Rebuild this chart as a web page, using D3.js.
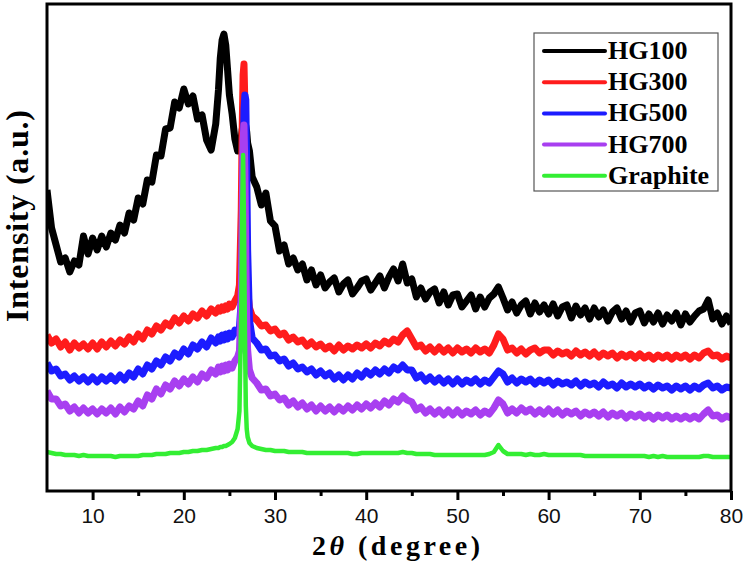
<!DOCTYPE html>
<html>
<head>
<meta charset="utf-8">
<script src="https://cdn.jsdelivr.net/npm/d3@7"></script>
<style>
  body { margin: 0; background: #fff; }
</style>
</head>
<body>
<svg id="chart"></svg>
<script>
// 2-theta grid (degree), finer around the graphite (002) peak
const angle = [
  5,5.5,6,6.5,7,7.5,8,8.5,9,9.5,
  10,10.5,11,11.5,12,12.5,13,13.5,14,14.5,
  15,15.5,16,16.5,17,17.5,18,18.5,19,19.5,
  20,20.5,21,21.5,22,22.5,23,23.5,
  23.8,24,24.2,24.4,24.6,24.8,25,25.3,25.6,25.9,
  26.1,26.3,26.4,26.5,26.6,26.7,26.8,26.9,27,27.2,27.5,
  28,28.5,29,29.5,
  30,30.5,31,31.5,32,32.5,33,33.5,34,34.5,
  35,35.5,36,36.5,37,37.5,38,38.5,39,39.5,
  40,40.5,41,41.5,42,42.5,43,43.5,44,44.5,
  45,45.5,46,46.5,47,47.5,48,48.5,49,49.5,
  50,50.5,51,51.5,52,52.5,53,53.5,54,54.5,
  55,55.5,56,56.5,57,57.5,58,58.5,59,59.5,
  60,60.5,61,61.5,62,62.5,63,63.5,64,64.5,
  65,65.5,66,66.5,67,67.5,68,68.5,69,69.5,
  70,70.5,71,71.5,72,72.5,73,73.5,74,74.5,
  75,75.5,76,76.5,77,77.5,78,78.5,79,79.5,
  80
];

// intensities (a.u.), curves already offset
const hg100 = [
  301,263,246,229,233,219,230,226,255,237,
  253,241,255,244,258,251,266,258,278,271,
  293,287,311,309,336,335,362,363,389,383,
  402,387,395,372,376,351,341,367,
  401,433,451,457,446,421,396,377,352,340,
  347,353,361,366,369,369,365,359,348,340,314,
  304,286,298,270,
  265,240,246,227,233,221,227,211,221,206,
  216,203,209,213,199,207,211,197,203,210,
  212,201,208,215,203,214,222,210,227,208,
  212,194,203,192,199,202,188,199,186,196,
  197,184,190,196,182,194,184,193,197,204,
  193,181,189,178,186,190,177,188,179,186,
  177,187,175,184,186,173,185,176,183,172,
  183,174,181,170,179,183,172,180,169,178,
  180,168,177,169,178,167,176,170,178,166,
  177,169,175,180,182,191,172,178,167,175,
  167
];
const hg300 = [
  156,148,152,144,149,141,148,143,147,142,
  148,142,149,144,150,145,151,147,154,149,
  157,152,161,157,165,161,168,165,173,168,
  175,170,177,173,180,175,182,178,
  183,180,184,181,185,182,187,184,190,195,
  206,281,361,416,427,386,301,236,201,183,175,
  171,165,166,160,
  162,156,158,151,154,149,151,145,149,144,
  147,142,145,140,146,141,145,142,146,143,
  147,143,148,145,150,147,152,149,156,160,
  152,144,146,140,144,139,144,139,143,138,
  143,139,142,138,143,139,142,138,146,157,
  152,141,143,138,142,137,141,143,138,141,
  141,136,140,137,139,135,140,136,139,135,
  139,134,138,135,138,133,137,134,137,133,
  137,133,136,132,136,133,136,132,136,133,
  136,132,136,133,138,140,135,136,132,135,
  133
];
const hg500 = [
  128,120,122,115,117,111,115,110,114,109,
  114,109,114,110,115,110,116,111,118,114,
  122,117,126,122,130,126,134,130,138,134,
  142,137,146,142,149,144,153,148,
  154,150,156,151,157,152,158,154,161,158,
  163,191,241,321,381,396,391,321,241,171,153,
  148,141,142,135,
  136,130,132,125,128,122,124,119,122,116,
  120,115,118,112,116,111,116,112,118,114,
  120,116,121,117,122,118,124,121,126,121,
  121,113,116,110,114,109,113,108,112,107,
  112,107,111,108,112,107,111,108,114,120,
  117,109,113,108,112,109,112,107,111,108,
  111,106,110,107,109,106,110,105,109,106,
  108,104,109,105,107,103,108,104,107,104,
  107,103,106,102,106,103,105,101,105,102,
  105,101,105,102,106,108,103,105,101,104,
  103
];
const hg700 = [
  100,92,92,85,87,80,84,78,83,78,
  82,77,82,78,83,77,84,79,85,82,
  90,85,96,92,102,97,106,102,110,105,
  112,107,114,109,117,113,121,117,
  124,119,125,120,126,121,127,123,130,134,
  140,191,271,351,366,321,231,171,141,121,113,
  108,101,102,95,
  97,91,93,86,90,84,88,82,86,80,
  85,80,84,79,84,80,85,81,86,82,
  87,83,88,84,90,86,92,89,95,91,
  89,81,84,78,82,77,81,76,81,76,
  81,76,80,77,81,76,80,77,83,91,
  87,78,82,78,83,79,82,77,81,77,
  82,77,81,76,80,77,80,75,79,76,
  79,75,79,74,78,75,78,73,77,74,
  77,73,76,72,76,73,76,72,75,72,
  75,72,75,72,77,81,75,76,72,75,
  73
];
const graphite = [
  39,38,37,37,36,36,36,35,36,35,
  35,35,35,35,35,34,35,35,35,35,
  35,36,36,36,37,37,37,38,38,38,
  39,39,40,40,41,41,42,43,
  43,44,44,45,45,46,47,49,53,62,
  80,180,280,336,270,160,85,62,54,48,45,
  43,42,41,41,
  40,40,40,39,39,39,39,38,38,38,
  38,38,38,38,38,38,38,37,37,38,
  38,38,38,38,38,38,38,38,39,38,
  38,37,37,37,37,36,36,36,36,36,
  36,36,36,36,36,36,36,37,39,46,
  40,37,37,37,37,36,37,36,36,37,
  36,36,36,36,36,36,36,36,35,35,
  35,35,35,35,35,35,35,35,35,35,
  35,35,34,35,34,35,34,34,34,34,
  34,34,34,34,35,35,34,34,34,34,
  34
];

const seriesNames = ["HG100", "HG300", "HG500", "HG700", "Graphite"];
const seriesColors = ["#000000", "#ff1c1c", "#1c1cff", "#a83ff0", "#33ee33"];
const xTicks = [10, 20, 30, 40, 50, 60, 70, 80];
const xMinorTicks = [15, 25, 35, 45, 55, 65, 75];

function drawXrd(selector) {
  const width = 746, height = 568;
  const margin = { top: 4, right: 15, bottom: 77, left: 47 };
  const allSeries = [hg100, hg300, hg500, hg700, graphite];

  const svg = d3.select(selector)
    .attr("width", width)
    .attr("height", height);

  const x = d3.scaleLinear()
    .domain([5, 80])
    .range([margin.left, width - margin.right]);

  const y = d3.scaleLinear()
    .domain([0, 487])
    .range([height - margin.bottom, margin.top]);

  svg.append("clipPath")
    .attr("id", "plotclip")
    .append("rect")
    .attr("x", margin.left)
    .attr("y", margin.top)
    .attr("width", width - margin.left - margin.right)
    .attr("height", height - margin.top - margin.bottom);

  const line = d3.line()
    .x(d => x(d[0]))
    .y(d => y(d[1]));

  const plot = svg.append("g").attr("clip-path", "url(#plotclip)");
  allSeries.forEach((vals, i) => {
    plot.append("path")
      .datum(angle.map((a, j) => [a, vals[j]]))
      .attr("fill", "none")
      .attr("stroke", seriesColors[i])
      .attr("stroke-width", i === 4 ? 4.5 : 7)
      .attr("stroke-linejoin", "round")
      .attr("d", line);
  });

  // axes
  const xAxis = svg.append("g")
    .attr("transform", `translate(0,${height - margin.bottom})`)
    .call(d3.axisBottom(x).tickValues(xTicks).tickSize(9).tickSizeOuter(0));
  xAxis.select(".domain").remove();
  xAxis.selectAll(".tick line").attr("stroke-width", 3);
  xAxis.selectAll(".tick text")
    .attr("y", 32)
    .attr("dy", null)
    .attr("font-family", "'Liberation Sans', Arial, sans-serif")
    .attr("font-size", "21px")
    .attr("fill", "#111");

  const xMinor = svg.append("g")
    .attr("transform", `translate(0,${height - margin.bottom})`)
    .call(d3.axisBottom(x).tickValues(xMinorTicks).tickSize(5).tickSizeOuter(0).tickFormat(""));
  xMinor.select(".domain").remove();
  xMinor.selectAll(".tick line").attr("stroke-width", 3);

  svg.append("rect")
    .attr("x", margin.left)
    .attr("y", margin.top)
    .attr("width", width - margin.left - margin.right)
    .attr("height", height - margin.top - margin.bottom)
    .attr("fill", "none")
    .attr("stroke", "#000")
    .attr("stroke-width", 3);

  // titles
  const xt = svg.append("text")
    .attr("x", 396)
    .attr("y", 555)
    .attr("text-anchor", "middle")
    .attr("font-family", "'Liberation Serif', 'Times New Roman', serif")
    .attr("font-weight", "bold")
    .attr("font-size", "28px")
    .attr("textLength", 168)
    .attr("lengthAdjust", "spacing");
  xt.append("tspan").text("2");
  xt.append("tspan").attr("font-style", "italic").text("θ");
  xt.append("tspan").text(" (degree)");

  svg.append("text")
    .attr("transform", "translate(28,216) rotate(-90)")
    .attr("text-anchor", "middle")
    .attr("font-family", "'Liberation Serif', 'Times New Roman', serif")
    .attr("font-weight", "bold")
    .attr("font-size", "32px")
    .attr("textLength", 212)
    .attr("lengthAdjust", "spacing")
    .text("Intensity (a.u.)");

  // legend
  const legend = svg.append("g").attr("transform", "translate(534,33)");
  legend.append("rect")
    .attr("width", 184)
    .attr("height", 158)
    .attr("fill", "#fff")
    .attr("stroke", "#555")
    .attr("stroke-width", 1.2);

  const item = legend.selectAll("g.item")
    .data(seriesNames)
    .join("g")
    .attr("class", "item")
    .attr("transform", (d, i) => `translate(0,${18 + i * 31.2})`);

  item.append("line")
    .attr("x1", 10)
    .attr("x2", 71)
    .attr("stroke", (d, i) => seriesColors[i])
    .attr("stroke-width", 4)
    .attr("stroke-linecap", "round");

  item.append("text")
    .attr("x", 74)
    .attr("y", 8)
    .attr("font-family", "'Liberation Serif', 'Times New Roman', serif")
    .attr("font-weight", "bold")
    .attr("font-size", "26px")
    .attr("fill", "#000")
    .text(d => d);
}

drawXrd("#chart");
</script>
</body>
</html>
